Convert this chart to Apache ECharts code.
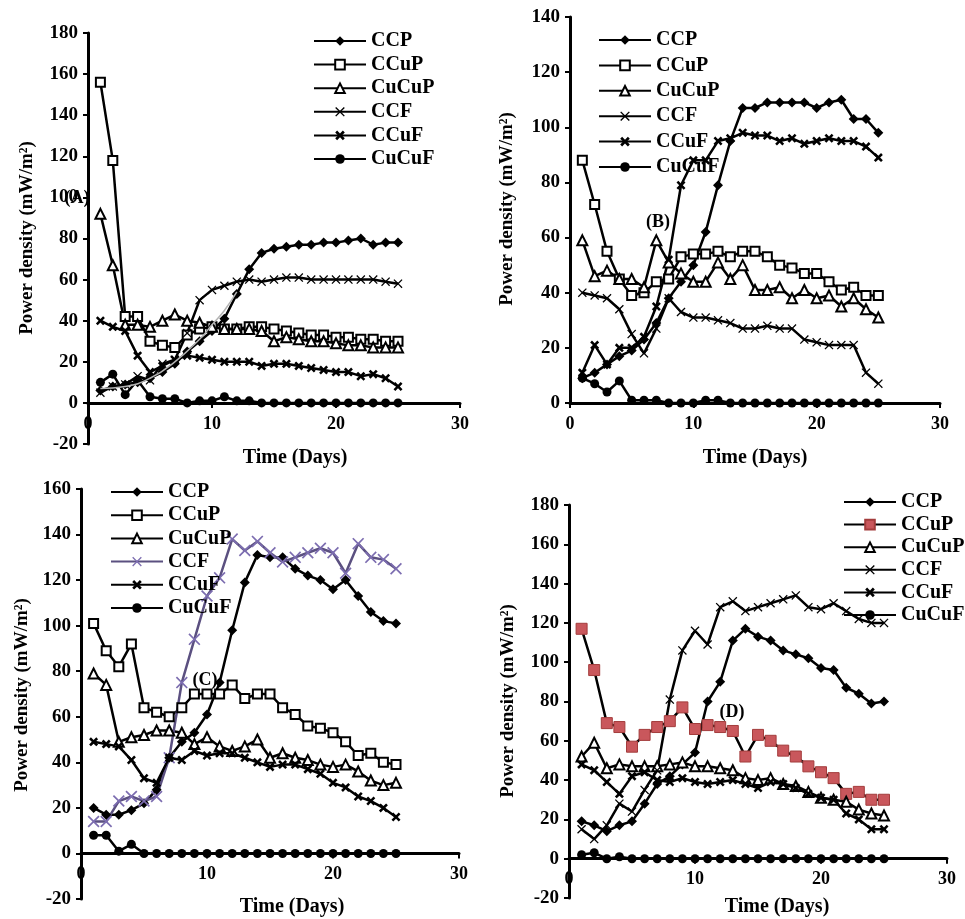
<!DOCTYPE html>
<html>
<head>
<meta charset="utf-8">
<script src="https://cdn.jsdelivr.net/npm/echarts@6/dist/echarts.min.js"></script>
<style>
  html, body { margin: 0; padding: 0; background: #fff; }
  #main { width: 965px; height: 919px; }
</style>
</head>
<body>
<div id="main"></div>
<script>
var days = [1, 2, 3, 4, 5, 6, 7, 8, 9, 10, 11, 12, 13, 14, 15, 16, 17, 18, 19, 20, 21, 22, 23, 24, 25];
var names = ['CCP', 'CCuP', 'CuCuP', 'CCF', 'CCuF', 'CuCuF'];

// (A)
var ccpA = [6, 8, 9, 10, 12, 15, 19, 25, 30, 35, 41, 53, 65, 73, 75, 76, 77, 77, 78, 78, 79, 80, 77, 78, 78];
var ccupA = [156, 118, 42, 42, 30, 28, 27, 33, 36, 37, 36, 36, 37, 37, 36, 35, 34, 33, 33, 32, 32, 31, 31, 30, 30];
var cucupA = [92, 67, 38, 38, 37, 40, 43, 40, 39, 37, 36, 36, 36, 35, 30, 32, 31, 30, 30, 29, 28, 28, 27, 27, 27];
var ccfA = [5, 8, 9, 13, 11, 19, 21, 34, 50, 55, 57, 59, 60, 59, 60, 61, 61, 60, 60, 60, 60, 60, 60, 59, 58];
var ccufA = [40, 37, 35, 23, 15, 18, 21, 23, 22, 21, 20, 20, 20, 18, 19, 19, 18, 17, 16, 15, 15, 13, 14, 12, 8];
var cucufA = [10, 14, 4, 11, 3, 2, 2, 0, 1, 1, 3, 1, 1, 0, 0, 0, 0, 0, 0, 0, 0, 0, 0, 0, 0];
// grey trend line drawn over CCP in (A)
var trendDaysA = [1, 3, 5, 7, 9, 10, 11, 12];
var trendA = [7, 8, 12, 20, 31, 38, 45, 54];

// (B)
var ccpB = [9, 11, 14, 17, 19, 23, 29, 38, 44, 50, 62, 79, 95, 107, 107, 109, 109, 109, 109, 107, 109, 110, 103, 103, 98];
var ccupB = [88, 72, 55, 45, 39, 40, 44, 45, 53, 54, 54, 55, 53, 55, 55, 53, 50, 49, 47, 47, 44, 41, 42, 39, 39];
var cucupB = [59, 46, 48, 45, 45, 42, 59, 51, 47, 44, 44, 51, 45, 50, 41, 41, 42, 38, 41, 38, 39, 35, 38, 34, 31];
var ccfB = [40, 39, 38, 34, 25, 18, 27, 38, 33, 31, 31, 30, 29, 27, 27, 28, 27, 27, 23, 22, 21, 21, 21, 11, 7];
var ccufB = [11, 21, 14, 20, 20, 24, 35, 52, 79, 88, 88, 95, 96, 98, 97, 97, 95, 96, 94, 95, 96, 95, 95, 93, 89];
var cucufB = [9, 7, 4, 8, 1, 1, 1, 0, 0, 0, 1, 1, 0, 0, 0, 0, 0, 0, 0, 0, 0, 0, 0, 0, 0];

// (C)
var ccpC = [20, 17, 17, 19, 22, 28, 42, 49, 53, 61, 75, 98, 119, 131, 130, 130, 125, 122, 120, 116, 120, 113, 106, 102, 101];
var ccupC = [101, 89, 82, 92, 64, 62, 60, 64, 70, 70, 70, 74, 68, 70, 70, 64, 61, 56, 55, 53, 49, 43, 44, 40, 39];
var cucupC = [79, 74, 49, 51, 52, 54, 54, 53, 48, 51, 47, 45, 47, 50, 42, 44, 42, 41, 39, 38, 39, 36, 32, 30, 31];
var ccfC = [14, 14, 23, 25, 23, 25, 42, 75, 94, 113, 121, 138, 133, 137, 132, 128, 130, 132, 134, 132, 123, 136, 130, 129, 125];
var ccufC = [49, 48, 47, 41, 33, 31, 42, 41, 45, 43, 44, 44, 42, 40, 38, 39, 39, 37, 35, 31, 29, 25, 23, 20, 16];
var cucufC = [8, 8, 1, 4, 0, 0, 0, 0, 0, 0, 0, 0, 0, 0, 0, 0, 0, 0, 0, 0, 0, 0, 0, 0, 0];

// (D)
var ccpD = [19, 17, 14, 17, 19, 28, 38, 42, 48, 54, 80, 90, 111, 117, 113, 111, 106, 104, 102, 97, 96, 87, 84, 79, 80];
var ccupD = [117, 96, 69, 67, 57, 63, 67, 70, 77, 66, 68, 67, 65, 52, 63, 60, 55, 52, 47, 44, 41, 33, 34, 30, 30];
var cucupD = [52, 59, 46, 48, 47, 47, 47, 48, 49, 47, 47, 46, 45, 41, 40, 41, 38, 37, 34, 31, 30, 29, 25, 23, 22];
var ccfD = [15, 10, 17, 28, 24, 35, 45, 81, 106, 116, 109, 128, 131, 126, 128, 130, 132, 134, 128, 127, 130, 126, 122, 120, 120];
var ccufD = [48, 45, 39, 33, 42, 44, 40, 39, 41, 39, 38, 39, 40, 38, 36, 39, 38, 36, 33, 31, 30, 23, 20, 15, 15];
var cucufD = [2, 3, 0, 1, 0, 0, 0, 0, 0, 0, 0, 0, 0, 0, 0, 0, 0, 0, 0, 0, 0, 0, 0, 0, 0];

var serif = 'Liberation Serif';
var xBold = 'path://M0,2L2,0L5,3L8,0L10,2L7,5L10,8L8,10L5,7L2,10L0,8L3,5Z';
var xThin = 'path://M0,1L1,0L5,4L9,0L10,1L6,5L10,9L9,10L5,6L1,10L0,9L4,5Z';

var marks = {
  CCP: { symbol: 'diamond', size: 10, color: '#000', border: 0 },
  CCuP: { symbol: 'rect', size: 9, color: '#fff', border: 2 },
  CuCuP: { symbol: 'triangle', size: 10, color: '#fff', border: 2 },
  CCF: { symbol: xThin, size: 9, color: '#000', border: 0 },
  CCuF: { symbol: xBold, size: 9, color: '#000', border: 0 },
  CuCuF: { symbol: 'circle', size: 9, color: '#000', border: 0 }
};

var panels = [
  { key: 'A', data: [ccpA, ccupA, cucupA, ccfA, ccufA, cucufA],
    grid: { left: 88, top: 33, width: 372, height: 411 }, yMin: -20, yMax: 180,
    legend: { left: 313, top: 31, itemGap: 3.6 } },
  { key: 'B', data: [ccpB, ccupB, cucupB, ccfB, ccufB, cucufB],
    grid: { left: 570, top: 17, width: 370, height: 386 }, yMin: 0, yMax: 140,
    legend: { left: 598, top: 30, itemGap: 5.4 } },
  { key: 'C', data: [ccpC, ccupC, cucupC, ccfC, ccufC, cucufC],
    grid: { left: 81, top: 489, width: 378, height: 410 }, yMin: -20, yMax: 160,
    legend: { left: 110, top: 482, itemGap: 3.2 } },
  { key: 'D', data: [ccpD, ccupD, cucupD, ccfD, ccufD, cucufD],
    grid: { left: 569, top: 505, width: 378, height: 393 }, yMin: -20, yMax: 180,
    legend: { left: 843, top: 492, itemGap: 2.6 } }
];

// colour exceptions in the reference
var special = {
  'C:CCF': { color: '#7c6db0', border: 0, size: 12, line: '#5b5080' },
  'D:CCuP': { color: '#c9575c', borderColor: '#a33c3c', border: 1, size: 11 }
};

function pts(xs, vals) {
  return vals.map(function (v, i) { return [xs[i], v]; });
}

var grids = [], xAxes = [], yAxes = [], legends = [], series = [];

panels.forEach(function (p, k) {
  grids.push(p.grid);
  // the x axis crosses at y = 0, so lift it (line and labels) from the grid bottom
  var lift = p.grid.height * (0 - p.yMin) / (p.yMax - p.yMin);
  xAxes.push({
    type: 'value', gridIndex: k, min: 0, max: 30, interval: 10,
    offset: -lift,
    axisLine: { onZero: false, lineStyle: { color: '#000', width: 3 } },
    axisTick: { length: 5, lineStyle: { color: '#000', width: 2 } },
    axisLabel: { color: '#000', fontFamily: serif, fontWeight: 'bold', fontSize: 18, margin: 12 },
    splitLine: { show: false }
  });
  yAxes.push({
    type: 'value', gridIndex: k, min: p.yMin, max: p.yMax, interval: 20,
    axisLine: { show: true, onZero: false, lineStyle: { color: '#000', width: 3 } },
    axisTick: { show: true, length: 5, lineStyle: { color: '#000', width: 2 } },
    axisLabel: { color: '#000', fontFamily: serif, fontWeight: 'bold', fontSize: 19, margin: 10 },
    splitLine: { show: false }
  });
  legends.push({
    orient: 'vertical', left: p.legend.left, top: p.legend.top, itemGap: p.legend.itemGap,
    padding: 0, itemWidth: 52, itemHeight: 12,
    data: names.map(function (n) { return p.key + ':' + n; }),
    formatter: function (name) { return name.split(':')[1]; },
    textStyle: { color: '#000', fontFamily: serif, fontWeight: 'bold', fontSize: 20, lineHeight: 20 },
    selectedMode: false
  });
  names.forEach(function (n, j) {
    var m = marks[n];
    var id = p.key + ':' + n;
    var s = special[id] || {};
    series.push({
      name: id, type: 'line', xAxisIndex: k, yAxisIndex: k,
      data: pts(days, p.data[j]),
      symbol: m.symbol, symbolSize: s.size || m.size,
      lineStyle: { color: s.line || '#000', width: 2.5 },
      itemStyle: {
        color: s.color || m.color,
        borderColor: s.borderColor || '#000',
        borderWidth: s.border !== undefined ? s.border : m.border
      },
      z: 3
    });
  });
});

series.push({
  name: 'trendA', type: 'line', xAxisIndex: 0, yAxisIndex: 0, smooth: true,
  data: pts(trendDaysA, trendA), showSymbol: false,
  lineStyle: { color: '#b4b4b4', width: 1.5 }, z: 4
});

function txt(x, y, s, size, rot) {
  return {
    type: 'text', x: x, y: y, rotation: rot || 0, z: 10,
    style: {
      text: s, fill: '#000', font: 'bold ' + size + 'px "' + serif + '"',
      textAlign: 'center', textVerticalAlign: 'middle'
    }
  };
}

var graphics = [
  txt(295, 458, 'Time (Days)', 20), txt(755, 458, 'Time (Days)', 20),
  txt(292, 907, 'Time (Days)', 20), txt(777, 907, 'Time (Days)', 20),
  txt(27, 238, 'Power density (mW/m\u00b2)', 19, Math.PI / 2),
  txt(507, 209, 'Power density (mW/m\u00b2)', 19, Math.PI / 2),
  txt(22, 695, 'Power density (mW/m\u00b2)', 19, Math.PI / 2),
  txt(508, 701, 'Power density (mW/m\u00b2)', 19, Math.PI / 2),
  txt(77, 198, '(A)', 18), txt(658, 222, '(B)', 18),
  txt(205, 680, '(C)', 18), txt(732, 712, '(D)', 18)
];

var chart = echarts.init(document.getElementById('main'));
chart.setOption({
  animation: false,
  backgroundColor: '#fff',
  grid: grids,
  xAxis: xAxes,
  yAxis: yAxes,
  legend: legends,
  series: series,
  graphic: graphics
});
</script>
</body>
</html>
